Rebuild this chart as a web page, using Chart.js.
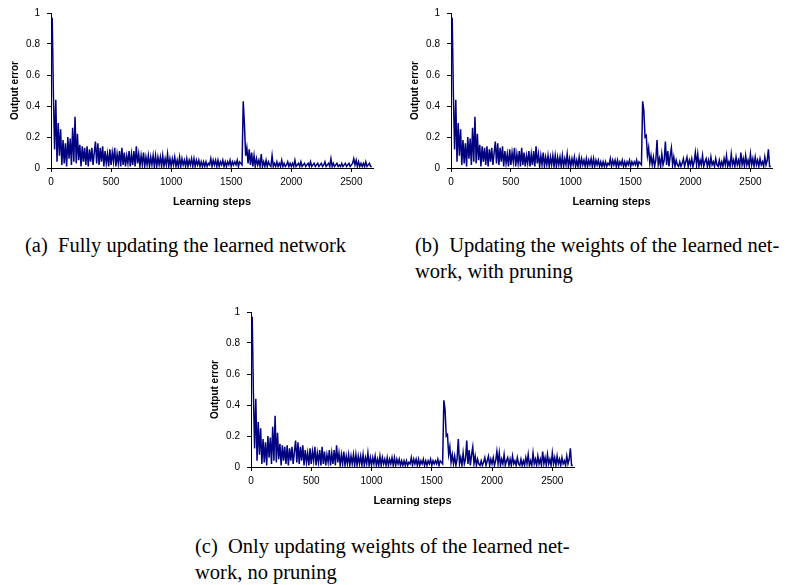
<!DOCTYPE html>
<html>
<head>
<meta charset="utf-8">
<script src="https://cdn.jsdelivr.net/npm/chart.js@4"></script>
<style>
  body { margin: 0; background: #fff; width: 788px; height: 585px; position: relative; overflow: hidden; }
  canvas { position: absolute; }
  .cap { position: absolute; font-family: "Liberation Serif", "Times New Roman", serif; font-size: 20.5px; line-height: 26px; color: #000; white-space: nowrap; }
</style>
</head>
<body>
<canvas id="chart-a" width="390" height="215" style="left:0px;top:0px"></canvas>
<canvas id="chart-b" width="388" height="215" style="left:400px;top:0px"></canvas>
<canvas id="chart-c" width="390" height="215" style="left:200px;top:299px"></canvas>

<div class="cap" style="left:25px;top:232px">(a)&nbsp; Fully updating the learned network</div>
<div class="cap" style="left:415px;top:232px">(b)&nbsp; Updating the weights of the learned net-<br>work, with pruning</div>
<div class="cap" style="left:195px;top:533px">(c)&nbsp; Only updating weights of the learned net-<br>work, no pruning</div>

<script>
// one sample every 10 learning steps
const STEP = 10

// steps 0..1590, same run in all three panels
const firstPhase = [
  0.67, 0.97, 0.47, 0.12, 0.44, 0.04, 0.29, 0.08, 0.25, 0.02,
  0.18, 0.03, 0.16, 0.01, 0.20, 0.06, 0.19, 0.02, 0.26, 0.04,
  0.33, 0.03, 0.22, 0.05, 0.15, 0.01, 0.14, 0.04, 0.13, 0.02,
  0.14, 0.01, 0.12, 0.04, 0.13, 0.02, 0.10, 0.17, 0.03, 0.16,
  0.02, 0.13, 0.04, 0.14, 0.01, 0.11, 0.03, 0.09, 0.01, 0.12,
  0.02, 0.10, 0.04, 0.13, 0.01, 0.09, 0.03, 0.11, 0.01, 0.13,
  0.02, 0.10, 0.01, 0.08, 0.03, 0.11, 0.01, 0.09, 0.02, 0.11,
  0.01, 0.14, 0.03, 0.09, 0.01, 0.08, 0.02, 0.10, 0.01, 0.07,
  0.02, 0.08, 0.01, 0.07, 0.02, 0.08, 0.01, 0.08, 0.01, 0.07,
  0.02, 0.07, 0.01, 0.08, 0.01, 0.06, 0.02, 0.09, 0.01, 0.06,
  0.01, 0.06, 0.02, 0.07, 0.01, 0.05, 0.01, 0.07, 0.01, 0.06,
  0.02, 0.05, 0.01, 0.06, 0.01, 0.05, 0.02, 0.06, 0.01, 0.06,
  0.01, 0.05, 0.02, 0.05, 0.01, 0.04, 0.01, 0.04, 0.01, 0.04,
  0.01, 0.03, 0.02, 0.06, 0.01, 0.05, 0.02, 0.05, 0.01, 0.05,
  0.01, 0.04, 0.02, 0.05, 0.01, 0.04, 0.01, 0.04, 0.02, 0.05,
  0.01, 0.04, 0.02, 0.04, 0.02, 0.05, 0.01, 0.04, 0.03, 0.02,
]

// steps 1600..2670, fully updated network
const secondPhaseFull = [
  0.43, 0.28, 0.08, 0.13, 0.03, 0.12, 0.02, 0.10, 0.01, 0.08,
  0.01, 0.06, 0.02, 0.05, 0.01, 0.09, 0.01, 0.04, 0.01, 0.05,
  0.01, 0.04, 0.02, 0.01, 0.08, 0.01, 0.03, 0.01, 0.04, 0.01,
  0.03, 0.01, 0.05, 0.01, 0.03, 0.01, 0.02, 0.04, 0.01, 0.03,
  0.01, 0.03, 0.01, 0.05, 0.01, 0.02, 0.03, 0.01, 0.04, 0.01,
  0.02, 0.03, 0.01, 0.02, 0.03, 0.01, 0.04, 0.01, 0.02, 0.03,
  0.01, 0.02, 0.03, 0.01, 0.02, 0.03, 0.01, 0.02, 0.04, 0.01,
  0.02, 0.03, 0.01, 0.06, 0.01, 0.03, 0.01, 0.02, 0.03, 0.01,
  0.02, 0.01, 0.03, 0.01, 0.02, 0.03, 0.01, 0.02, 0.03, 0.01,
  0.02, 0.03, 0.06, 0.02, 0.05, 0.01, 0.04, 0.01, 0.03, 0.01,
  0.03, 0.01, 0.04, 0.01, 0.02, 0.03, 0.01, 0.01,
]

// steps 1600..2670, weights-only updates
const secondPhaseWeights = [
  0.43, 0.37, 0.20, 0.21, 0.08, 0.13, 0.03, 0.08, 0.02, 0.07,
  0.01, 0.05, 0.18, 0.02, 0.06, 0.01, 0.09, 0.02, 0.05, 0.17,
  0.02, 0.11, 0.01, 0.08, 0.13, 0.02, 0.07, 0.01, 0.05, 0.02,
  0.01, 0.04, 0.01, 0.03, 0.06, 0.01, 0.04, 0.07, 0.01, 0.05,
  0.02, 0.06, 0.01, 0.04, 0.10, 0.02, 0.09, 0.01, 0.05, 0.02,
  0.08, 0.01, 0.04, 0.06, 0.01, 0.05, 0.01, 0.07, 0.02, 0.04,
  0.01, 0.06, 0.02, 0.01, 0.05, 0.01, 0.04, 0.01, 0.06, 0.02,
  0.08, 0.01, 0.04, 0.01, 0.09, 0.02, 0.05, 0.01, 0.07, 0.02,
  0.05, 0.01, 0.10, 0.02, 0.06, 0.01, 0.08, 0.02, 0.05, 0.01,
  0.09, 0.02, 0.06, 0.01, 0.07, 0.02, 0.05, 0.01, 0.06, 0.02,
  0.04, 0.01, 0.07, 0.02, 0.05, 0.12, 0.01, 0.01,
]

const xTicks = [0, 500, 1000, 1500, 2000, 2500]
const yTicks = [0, 0.2, 0.4, 0.6, 0.8, 1]

/** @type {(values: number[]) => {x: number, y: number}[]} */
const toPoints = (values) => values.map((y, i) => ({x: i * STEP, y}))

const tickFont = {family: "Liberation Sans, Arial, sans-serif", size: 10}
const titleFont = {family: "Liberation Sans, Arial, sans-serif", size: 10, weight: "bold"}

/** @type {(id: string, values: number[], padRight: number) => any} */
const makeChart = (id, values, padRight) => new Chart(
  // @ts-ignore
  document.getElementById(id).getContext("2d"),
  {
    type: "line",
    data: {
      datasets: [{
        data: toPoints(values),
        borderColor: "#000080",
        borderWidth: 1.5,
        pointRadius: 0,
        tension: 0,
      }],
    },
    options: {
      animation: false,
      responsive: false,
      layout: {padding: {top: 13, right: padRight, bottom: 0, left: 0}},
      plugins: {legend: {display: false}, tooltip: {enabled: false}},
      scales: {
        x: {
          type: "linear",
          min: 0,
          max: 2680,
          afterBuildTicks: (scale) => { scale.ticks = xTicks.map((value) => ({value})) },
          afterFit: (scale) => { scale.height = 47 },
          border: {display: true, color: "#000", width: 1},
          grid: {drawOnChartArea: false, drawTicks: true, tickLength: 4, color: "#000"},
          ticks: {font: tickFont, color: "#000", padding: 4, maxRotation: 0, callback: (v) => String(v)},
          title: {display: true, text: "Learning steps", font: {...titleFont, size: 11}, color: "#000", padding: {top: 0, bottom: 6}},
        },
        y: {
          min: 0,
          max: 1,
          afterBuildTicks: (scale) => { scale.ticks = yTicks.map((value) => ({value})) },
          afterFit: (scale) => { scale.width = 51 },
          border: {display: true, color: "#000", width: 1},
          grid: {drawOnChartArea: false, drawTicks: true, tickLength: 4, color: "#000"},
          ticks: {font: tickFont, color: "#000", padding: 7, callback: (v) => String(v)},
          title: {display: true, text: "Output error", font: titleFont, color: "#000", padding: {top: 9, bottom: 0}},
        },
      },
    },
  },
)

makeChart("chart-a", firstPhase.concat(secondPhaseFull), 17)
makeChart("chart-b", firstPhase.concat(secondPhaseWeights), 16)
makeChart("chart-c", firstPhase.concat(secondPhaseWeights), 16)
</script>
</body>
</html>
